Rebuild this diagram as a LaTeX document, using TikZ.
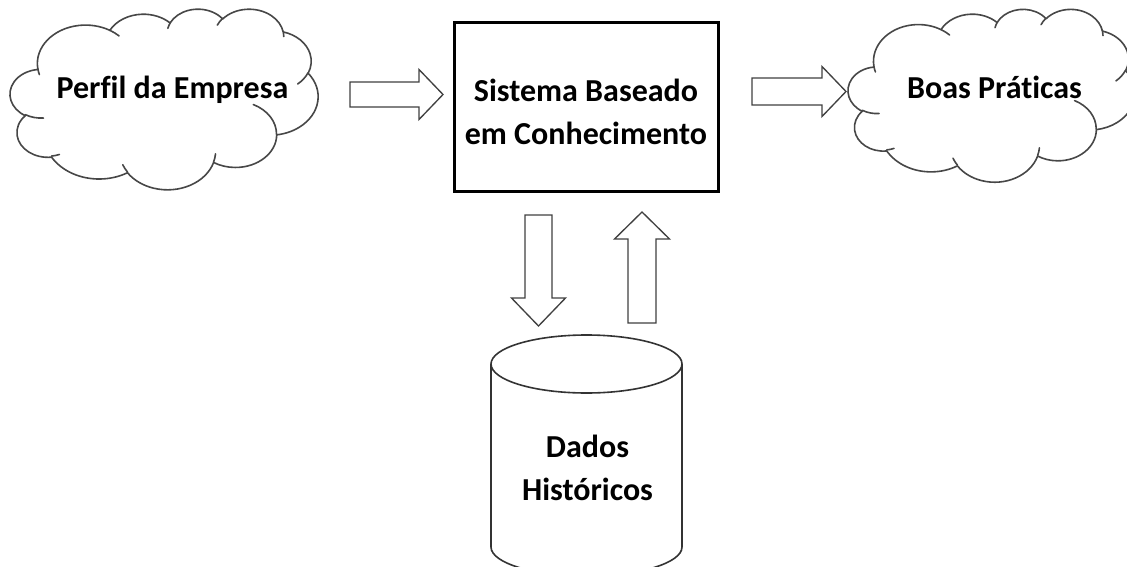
\documentclass[tikz,border=0pt]{standalone}
\usepackage{fontspec}
\setmainfont{Carlito}[Ligatures=CommonOff]
% arc given as in DrawingML: radii, visual start angle, visual sweep
\newcommand\ooarc[4]{arc[x radius=#1, y radius=#2,
  start angle={atan2((#1)*sin(#3),(#2)*cos(#3))},
  delta angle={(#4) + mod(atan2((#1)*sin((#3)+(#4)),(#2)*cos((#3)+(#4))) - ((#3)+(#4)) + 900, 360)
    - mod(atan2((#1)*sin(#3),(#2)*cos(#3)) - (#3) + 900, 360)}]}
\tikzset{
  cloudline/.style={draw=black!72, line width=1.2pt, line join=round, fill=white},
  cloudinner/.style={draw=black!72, line width=1.2pt, line cap=round},
  arrowline/.style={draw=black!75, line width=1pt, fill=white, line join=miter},
  sysbox/.style={draw=black, line width=2.3pt, minimum width=198pt, minimum height=126.75pt, inner sep=0pt},
  cylline/.style={draw=black!80, line width=1.2pt},
  label/.style={font=\fontsize{24}{32}\selectfont\bfseries, align=center, inner sep=0pt, text=black},
  pics/officecloud/.style={code={
    \draw[cloudline] (39.00,143.70)
      \ooarc{67.53}{91.90}{-190.4875}{123.7805}
      \ooarc{53.33}{72.67}{-144.1024}{89.9452}
      \ooarc{43.65}{59.45}{-145.8079}{99.7230}
      \ooarc{48.57}{65.95}{-130.9861}{117.2417}
      \ooarc{53.33}{72.73}{-78.7089}{109.0269}
      \ooarc{67.75}{92.20}{-46.2673}{130.2690}
      \ooarc{57.85}{78.67}{0.6250}{114.0333}
      \ooarc{67.52}{92.15}{22.4516}{115.1726}
      \ooarc{77.20}{105.43}{66.2426}{75.2243}
      \ooarc{43.60}{59.18}{-274.9421}{146.7356}
      \ooarc{43.45}{59.45}{-246.8285}{152.5189} -- cycle;
    \draw[cloudinner]
      (46.93,261.77) \ooarc{43.45}{59.45}{86.7420}{26.4295}
      (69.28,348.99) \ooarc{43.60}{59.18}{73.6105}{11.4475}
      (164.78,390.90) \ooarc{67.52}{92.15}{137.6242}{14.0811}
      (288.27,347.51) \ooarc{67.52}{92.15}{6.4533}{15.9980}
      (341.29,229.54) \ooarc{57.85}{78.67}{-70.2924}{70.9174}
      (417.98,153.54) \ooarc{53.33}{72.73}{30.3180}{27.7515}
      (383.24,54.26) \ooarc{48.57}{65.95}{-13.7443}{14.8589}
      (290.78,39.52) \ooarc{48.57}{65.95}{-149.1815}{18.1954}
      (221.41,47.20) \ooarc{43.65}{59.45}{-163.4943}{17.6864}
      (140.00,51.92) \ooarc{67.53}{91.90}{-66.7070}{12.3194}
      (41.27,157.89) \ooarc{67.53}{91.90}{157.6544}{11.8582};
  }},
  % length, shaft width, head width, head length
  pics/blockarrow/.style n args={4}{code={
    \draw[arrowline] (0,{-(#2)/2}) -- ({(#1)-(#4)},{-(#2)/2}) -- ({(#1)-(#4)},{-(#3)/2})
      -- (#1,0) -- ({(#1)-(#4)},{(#3)/2}) -- ({(#1)-(#4)},{(#2)/2}) -- (0,{(#2)/2}) -- cycle;
  }},
}
\begin{document}
\begin{tikzpicture}[x=0.75pt, y=-0.75pt]
\useasboundingbox (0,0) rectangle (1127,567);
\clip (0,0) rectangle (1127,567);

% clouds
\pic[xscale=0.713, yscale=0.418] at (10,8.6) {officecloud};
\pic[xscale=0.664, yscale=0.40] at (848,8.8) {officecloud};
\node[label] (perfil) at (172.5,90) {Perfil da Empresa};
\node[label] (boas) at (994.5,87) {Boas Práticas};

% knowledge-based system
\node[sysbox] (sbc) at (586.5,107) {};
\node[label] (sbctext) at (586,112) {Sistema Baseado\\em Conhecimento};

% block arrows
\pic at (350,94.5) {blockarrow={93}{25}{50}{24}};
\pic at (752,91.5) {blockarrow={94}{27}{50}{24}};
\pic[rotate=-90] at (538.5,215) {blockarrow={111}{27}{54}{28}};
\pic[rotate=90] at (642,323) {blockarrow={111}{28}{55}{27}};

% historical data store
\draw[cylline, fill=white] (491,364) -- (491,547)
  arc[start angle=180, delta angle=-180, x radius=95.5, y radius=29] -- (682,364);
\draw[cylline] (586.5,364) ellipse[x radius=95.5, y radius=29];
\node[label] (dados) at (587.5,468) {Dados\\Históricos};
\end{tikzpicture}
\end{document}
